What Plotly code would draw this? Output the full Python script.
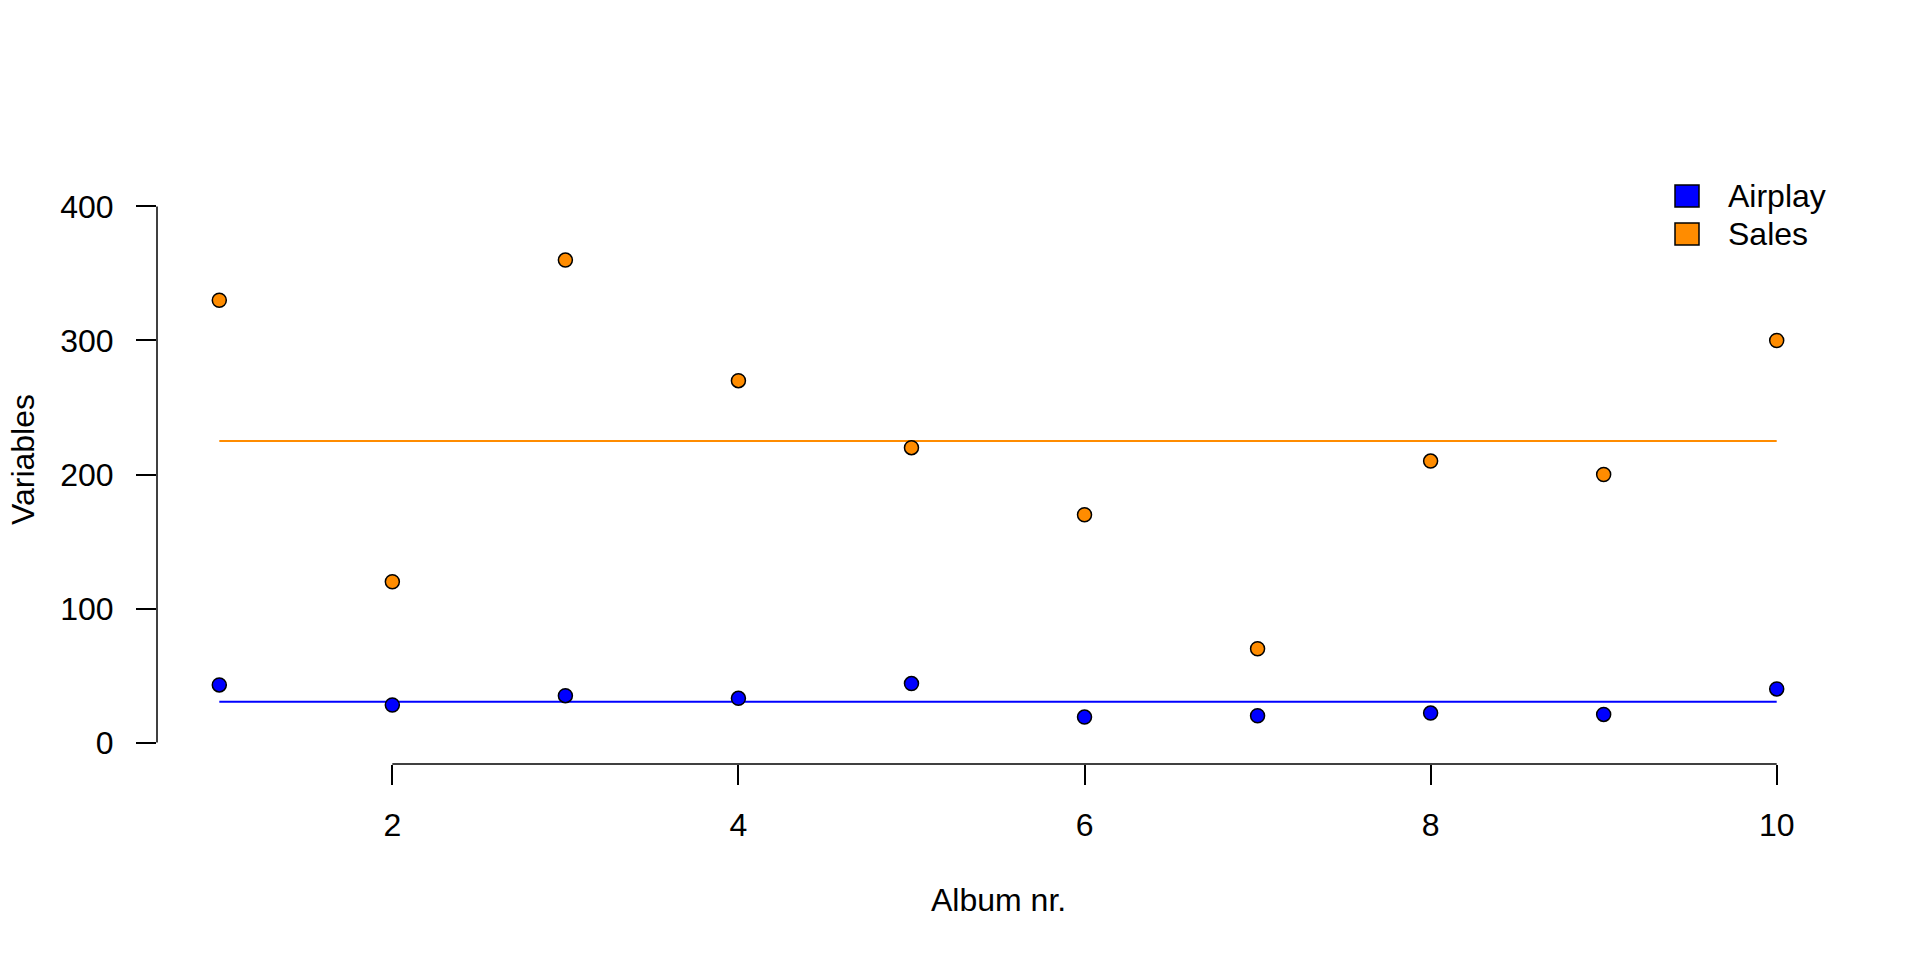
import numpy as np
import plotly.graph_objects as go

album = [1, 2, 3, 4, 5, 6, 7, 8, 9, 10]
airplay = [43, 28, 35, 33, 44, 19, 20, 22, 21, 40]
sales = [330, 120, 360, 270, 220, 170, 70, 210, 200, 300]
series_names = ["Airplay", "Sales"]
series_colors = ["#0000FF", "#FF8C00"]
x_ticks = [2, 4, 6, 8, 10]
y_ticks = [0, 100, 200, 300, 400]

FONT = "Liberation Sans, Arial, Helvetica, sans-serif"
FS = 32

fig = go.Figure()

for vals, col in zip([airplay, sales], series_colors):
    m = float(np.mean(vals))
    fig.add_trace(go.Scatter(
        x=[album[0], album[-1]], y=[m, m], mode="lines",
        line=dict(color=col, width=2), showlegend=False, hoverinfo="skip"))

for vals, col, name in zip([airplay, sales], series_colors, series_names):
    fig.add_trace(go.Scatter(
        x=album, y=vals, mode="markers", name=name,
        marker=dict(symbol="circle", size=14, color=col,
                    line=dict(color="black", width=1.5)),
        showlegend=False))

# axis lines (R style: span only the tick range)
fig.add_shape(type="line", xref="paper", yref="y", x0=0, x1=0,
              y0=y_ticks[0], y1=y_ticks[-1], line=dict(color="black", width=1.5))
fig.add_shape(type="line", xref="x", yref="paper", x0=x_ticks[0], x1=x_ticks[-1],
              y0=0, y1=0, line=dict(color="black", width=1.5))

# legend (drawn R-style)
leg_y = [196, 234]
for i, (name, col) in enumerate(zip(series_names, series_colors)):
    yc = leg_y[i]
    fig.add_shape(type="rect", xref="paper", yref="paper",
                  x0=(1675 - 157) / 1682, x1=(1699 - 157) / 1682,
                  y0=(764 - (yc + 11)) / 579, y1=(764 - (yc - 11)) / 579,
                  fillcolor=col, line=dict(color="black", width=1.5))
    fig.add_annotation(text=name, xref="paper", yref="paper",
                       x=(1726 - 157) / 1682, y=(764 - yc) / 579,
                       xanchor="left", yanchor="middle", showarrow=False,
                       font=dict(family=FONT, size=FS, color="black"))

fig.add_annotation(text="Variables", xref="paper", yref="paper",
                   x=(23 - 157) / 1682, y=(764 - 460) / 579, textangle=-90,
                   xanchor="center", yanchor="middle", showarrow=False,
                   font=dict(family=FONT, size=FS, color="black"))
fig.add_annotation(text="Album nr.", xref="paper", yref="paper",
                   x=0.5, y=(764 - 900) / 579,
                   xanchor="center", yanchor="middle", showarrow=False,
                   font=dict(family=FONT, size=FS, color="black"))

fig.update_layout(
    width=1920, height=960,
    margin=dict(l=157, r=81, t=185, b=196),
    paper_bgcolor="white", plot_bgcolor="white",
    font=dict(family=FONT, size=FS, color="black"),
    xaxis=dict(range=[0.64, 10.36], tickvals=x_ticks, ticks="outside",
               ticklen=20, tickwidth=1.5, tickcolor="black", showgrid=False,
               zeroline=False, showline=False, ticklabelstandoff=13,
               tickfont=dict(family=FONT, size=FS)),
    yaxis=dict(range=[-16, 416], tickvals=y_ticks, ticks="outside",
               ticklen=20, tickwidth=1.5, tickcolor="black", showgrid=False,
               zeroline=False, showline=False, ticklabelstandoff=16,
               tickfont=dict(family=FONT, size=FS)),
    showlegend=False,
)

fig.write_html("out.html", config={"displayModeBar": False},
               post_script="document.body.style.margin='0';")
